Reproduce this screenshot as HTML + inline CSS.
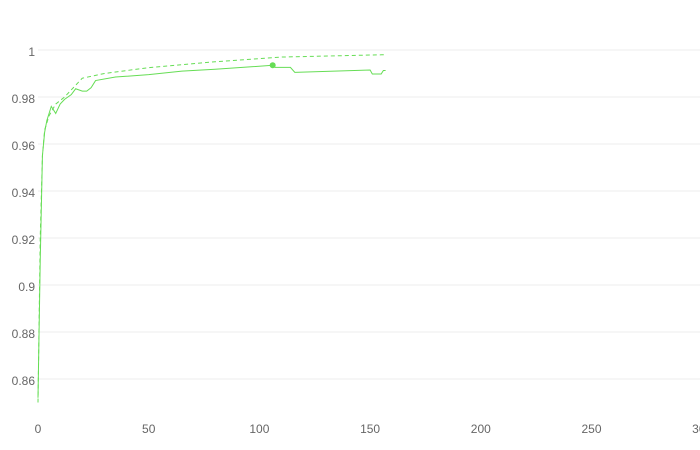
<!DOCTYPE html>
<html><head><meta charset="utf-8"><style>
body{margin:0;background:#fff;}
svg{display:block;font-family:"Liberation Sans",sans-serif;}
</style></head><body>
<svg id="chart" width="700" height="450"></svg>
<script>
const xTicks=[0,50,100,150,200,250,300];
const yTicks=[0.86,0.88,0.9,0.92,0.94,0.96,0.98,1];
const yTickLabels=["0.86","0.88","0.9","0.92","0.94","0.96","0.98","1"];
const solidX=[0,1,2,3,4,6,8,10,12,15,17,20,22,24,26,35,50,65,80,106,107,114,116,150,151,155,156,157];
const solidY=[0.852,0.91,0.955,0.965,0.97,0.976,0.973,0.977,0.979,0.981,0.9835,0.9825,0.9825,0.984,0.987,0.9885,0.9895,0.991,0.9918,0.9935,0.9926,0.9926,0.9905,0.9915,0.9898,0.9898,0.9913,0.9913];
const dashX=[0,1,2,3,5,8,12,16,20,30,50,80,110,157];
const dashY=[0.85,0.92,0.955,0.966,0.972,0.977,0.98,0.984,0.988,0.990,0.9925,0.995,0.997,0.998];
const markerX=106, markerY=0.9935;

const svg=document.getElementById('chart');
const NS='http://www.w3.org/2000/svg';
const sx=v=>38+v*2.214;
const sy=v=>50+(1-v)*2350;
function mk(t,a){const e=document.createElementNS(NS,t);for(const k in a)e.setAttribute(k,a[k]);svg.appendChild(e);return e;}
yTicks.forEach((t,i)=>{
  const g=mk('line',{x1:38,x2:700,y1:sy(t),y2:sy(t),stroke:'#ececec','stroke-width':1});
  
  
  const l=mk('text',{x:35,y:sy(t)+6,'text-anchor':'end','font-size':12,fill:'#666'});
  l.textContent=yTickLabels[i];
  
  
});
xTicks.forEach(t=>{
  const l=mk('text',{x:sx(t),y:433,'text-anchor':'middle','font-size':12,fill:'#666'});
  l.textContent=String(t);
  
  
});
const dp=mk('polyline',{points:dashX.map((x,i)=>sx(x)+','+sy(dashY[i])).join(' '),fill:'none',stroke:'#66dd55','stroke-width':1,'stroke-dasharray':'4,3'});


const sp=mk('polyline',{points:solidX.map((x,i)=>sx(x)+','+sy(solidY[i])).join(' '),fill:'none',stroke:'#66dd55','stroke-width':1});


const m=mk('circle',{cx:sx(markerX),cy:sy(markerY),r:3,fill:'#66dd55'});


</script>
</body></html>
